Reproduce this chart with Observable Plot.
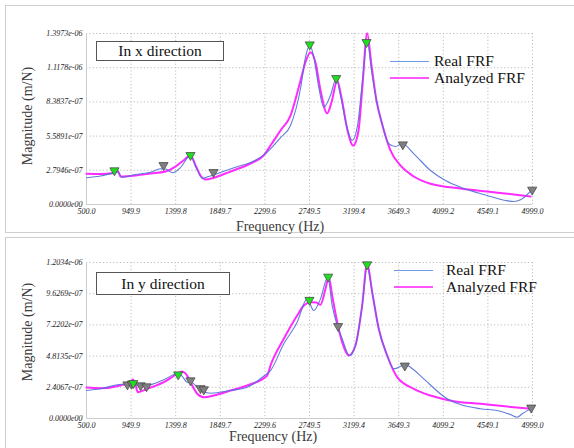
<!DOCTYPE html>
<html>
<head>
<meta charset="utf-8">
<script src="https://cdn.jsdelivr.net/npm/d3@7"></script>
<script src="https://cdn.jsdelivr.net/npm/@observablehq/plot@0.6"></script>
<style>
  html, body { margin: 0; padding: 0; background: #fff; }
  #page { position: relative; width: 574px; height: 448px; overflow: hidden; font-family: "Liberation Serif", "Times New Roman", Times, Tinos, "Noto Serif", "DejaVu Serif", serif; }
  .frame { position: absolute; border: 1px solid #cfcfcf; box-sizing: border-box; }
  .svgwrap { position: absolute; left: 0; }
  .lab { position: absolute; font-size: 14px; color: #3a3a3a; white-space: nowrap; transform: translate(-50%, -50%); }
  .ylab { transform: translate(-50%, -50%) rotate(-90deg); }
  .box { position: absolute; border: 1px solid #555; box-sizing: border-box; display: flex; align-items: center; justify-content: center; font-size: 15.5px; color: #111; background: #fff; }
  .leg { position: absolute; height: 0; }
  .legtext { position: absolute; font-size: 15.5px; color: #111; white-space: nowrap; transform: translateY(-52%); }
</style>
</head>
<body>
<div id="page"></div>
<script>
// ---------- shared axis ticks ----------
const xTickLabels = ["500.0","949.9","1399.8","1849.7","2299.6","2749.5","3199.4","3649.3","4099.2","4549.1","4999.0"];
const topYTickLabels = ["0.0000e00","2.7946e-07","5.5891e-07","8.3837e-07","1.1178e-06","1.3973e-06"];
const botYTickLabels = ["0.0000e00","2.4067e-07","4.8135e-07","7.2202e-07","9.6269e-07","1.2034e-06"];
const seriesNames = ["Real FRF", "Analyzed FRF"];
const panelTitles = ["In x direction", "In y direction"];

// ---------- x direction: Real FRF ----------
const xRealFreq = [500,641,772,823,853,994,1146,1246,1297,1367,1448,1549,1610,1670,1731,1781,1852,2003,2154,2296,2356,2457,2558,2659,2709,2753,2790,2840,2894,2961,3019,3062,3123,3180,3234,3284,3331,3375,3425,3486,3549,3617,3685,3802,3970,4121,4273,4542,4727,4810,4878,4999];
const xRealMag = [2.18e-7,2.33e-7,2.56e-7,2.66e-7,2.23e-7,2.45e-7,2.64e-7,2.92e-7,2.90e-7,2.59e-7,3.02e-7,4.00e-7,2.94e-7,2.12e-7,2.29e-7,2.41e-7,2.61e-7,3.05e-7,3.43e-7,4.09e-7,4.55e-7,5.47e-7,6.46e-7,9.48e-7,12.04e-7,12.99e-7,12.17e-7,9.72e-7,7.95e-7,8.91e-7,10.27e-7,8.91e-7,6.46e-7,5.23e-7,6.46e-7,10.13e-7,13.40e-7,10.95e-7,8.50e-7,6.46e-7,4.96e-7,4.74e-7,4.96e-7,4.14e-7,2.78e-7,1.96e-7,1.41e-7,0.74e-7,0.33e-7,0.25e-7,0.38e-7,1.25e-7];

// ---------- x direction: Analyzed FRF ----------
const xAnaFreq = [500,641,772,813,843,994,1146,1297,1398,1478,1549,1600,1650,1700,1781,1902,2003,2154,2296,2356,2457,2558,2659,2709,2760,2810,2861,2928,2971,3029,3072,3133,3190,3244,3284,3331,3375,3425,3486,3567,3667,3802,3970,4273,4542,4810,4979];
const xAnaMag = [2.51e-7,2.49e-7,2.57e-7,2.78e-7,2.29e-7,2.37e-7,2.53e-7,2.70e-7,3.10e-7,3.60e-7,4.00e-7,3.19e-7,2.37e-7,2.04e-7,2.17e-7,2.53e-7,2.84e-7,3.35e-7,4.09e-7,4.82e-7,6.05e-7,7.27e-7,10.13e-7,11.63e-7,12.44e-7,11.60e-7,9.32e-7,7.46e-7,8.33e-7,10.13e-7,8.74e-7,6.05e-7,4.82e-7,6.05e-7,9.72e-7,14.0e-7,11.36e-7,8.50e-7,6.46e-7,4.41e-7,3.19e-7,2.29e-7,1.69e-7,1.31e-7,1.06e-7,0.82e-7,0.65e-7];

// ---------- x direction: peak markers ----------
const xMarkFreq = [782,1277,1549,1781,2752,3019,3325,3691,4996];
const xMarkMag = [2.78e-7,3.21e-7,4.03e-7,2.64e-7,13.07e-7,10.32e-7,13.26e-7,4.90e-7,1.20e-7];
const xMarkKind = ["green","gray","green","gray","green","green","green","gray","gray"];

// ---------- y direction: Real FRF ----------
const yRealFreq = [500,641,810,893,967,1028,1105,1280,1415,1458,1516,1559,1650,1751,1953,2121,2296,2356,2490,2625,2726,2793,2860,2934,2978,3029,3079,3153,3213,3281,3331,3382,3448,3533,3600,3718,3768,3902,4138,4474,4643,4777,4845,4895,4999];
const yRealMag = [2.16e-7,2.29e-7,2.60e-7,2.66e-7,2.66e-7,2.55e-7,2.55e-7,2.99e-7,3.45e-7,3.32e-7,2.80e-7,2.78e-7,2.16e-7,1.95e-7,2.16e-7,2.41e-7,3.32e-7,3.70e-7,5.76e-7,7.43e-7,9.23e-7,8.33e-7,9.23e-7,10.90e-7,8.72e-7,7.17e-7,6.15e-7,4.86e-7,5.63e-7,8.72e-7,11.67e-7,9.74e-7,6.92e-7,4.86e-7,3.83e-7,4.17e-7,3.96e-7,3.06e-7,1.52e-7,0.75e-7,0.62e-7,0.31e-7,0.10e-7,0.36e-7,0.82e-7];

// ---------- y direction: Analyzed FRF ----------
const yAnaFreq = [500,641,843,944,967,994,1017,1112,1280,1415,1465,1509,1549,1617,1683,1784,1953,2121,2323,2356,2490,2625,2692,2760,2820,2860,2911,2944,2978,3029,3079,3146,3213,3281,3331,3382,3448,3533,3634,3802,3970,4205,4474,4810,4979];
const yAnaMag = [2.39e-7,2.34e-7,2.55e-7,2.80e-7,3.01e-7,2.62e-7,2.03e-7,2.29e-7,2.80e-7,3.45e-7,3.63e-7,3.39e-7,2.80e-7,1.91e-7,1.64e-7,1.77e-7,2.16e-7,2.55e-7,3.32e-7,4.09e-7,6.15e-7,7.95e-7,8.72e-7,8.97e-7,8.95e-7,8.77e-7,10.01e-7,10.90e-7,9.49e-7,7.43e-7,5.89e-7,4.86e-7,5.63e-7,8.72e-7,11.96e-7,9.74e-7,6.92e-7,4.86e-7,3.19e-7,2.29e-7,1.77e-7,1.33e-7,1.13e-7,0.87e-7,0.75e-7];

// ---------- y direction: peak markers ----------
const yMarkFreq = [913,955,972,1046,1105,1425,1549,1650,1683,2749,2938,3038,3331,3711,4986];
const yMarkMag = [2.62e-7,2.67e-7,2.72e-7,2.55e-7,2.47e-7,3.39e-7,2.93e-7,2.33e-7,2.24e-7,9.14e-7,10.93e-7,7.12e-7,11.88e-7,4.07e-7,0.83e-7];
const yMarkKind = ["gray","gray","green","gray","gray","green","gray","gray","gray","green","green","gray","green","gray","gray"];

// ---------- build ----------
const xTicks = xTickLabels.map(Number);
const zip = (fs, ms) => fs.map((f, i) => ({f, m: ms[i]}));
const zipK = (fs, ms, ks) => fs.map((f, i) => ({f, m: ms[i], k: ks[i]}));
const page = document.getElementById("page");
const serif = "'Liberation Serif', 'Times New Roman', Times, Tinos, 'Noto Serif', 'DejaVu Serif', serif";

function panel(cfg) {
  const yTicks = cfg.yLabels.map(Number);
  const chart = Plot.plot({
    width: 574,
    height: cfg.height,
    marginLeft: 86,
    marginRight: 42,
    marginTop: cfg.mt,
    marginBottom: cfg.mb,
    style: {fontFamily: serif, background: "transparent", color: "#222"},
    x: {domain: [500, 4999]},
    y: {domain: [0, yTicks[yTicks.length - 1]]},
    marks: [
      Plot.gridX(xTicks, {stroke: "#bdbdbd", strokeOpacity: 1, strokeDasharray: "1.2,2.2"}),
      Plot.gridY(yTicks.slice(1), {stroke: "#bdbdbd", strokeOpacity: 1, strokeDasharray: "1.2,2.2"}),
      Plot.ruleX([500], {stroke: "#cccccc"}),
      Plot.ruleY([0], {stroke: "#cccccc"}),
      Plot.axisX(xTicks, {tickSize: 0, tickPadding: 4, label: null, fontSize: 8, fontStyle: "italic", fontFamily: serif,
        tickFormat: d => xTickLabels[xTicks.indexOf(d)]}),
      Plot.axisY(yTicks, {tickSize: 0, tickPadding: 4, label: null, fontSize: 8, fontStyle: "italic", fontFamily: serif,
        tickFormat: d => cfg.yLabels[yTicks.indexOf(d)]}),
      Plot.line(cfg.ana, {x: "f", y: "m", stroke: "#ff2bff", strokeWidth: 2, curve: "monotone-x"}),
      Plot.line(cfg.real, {x: "f", y: "m", stroke: "#4f6fd9", strokeWidth: 1.1, strokeOpacity: 0.9, curve: "monotone-x"}),
      Plot.dot(cfg.marks, {x: "f", y: "m", symbol: "triangle", rotate: 180, r: 3.4,
        fill: d => d.k === "green" ? "#1fe01f" : "#808080", stroke: "#4a4a4a", strokeWidth: 0.8})
    ]
  });
  const wrap = document.createElement("div");
  wrap.className = "svgwrap";
  wrap.style.top = cfg.top + "px";
  wrap.appendChild(chart);
  page.appendChild(wrap);
}

function add(html) { page.insertAdjacentHTML("beforeend", html); }

add(`<div class="frame" style="left:5px;top:5px;width:575px;height:228px"></div>`);
add(`<div class="frame" style="left:5px;top:237px;width:575px;height:220px"></div>`);

panel({top: 0, height: 232, mt: 33, mb: 28, yLabels: topYTickLabels,
  real: zip(xRealFreq, xRealMag), ana: zip(xAnaFreq, xAnaMag), marks: zipK(xMarkFreq, xMarkMag, xMarkKind)});
panel({top: 232, height: 216, mt: 30, mb: 30, yLabels: botYTickLabels,
  real: zip(yRealFreq, yRealMag), ana: zip(yAnaFreq, yAnaMag), marks: zipK(yMarkFreq, yMarkMag, yMarkKind)});

// axis titles
add(`<div class="lab ylab" style="left:28px;top:116px">Magnitude (m/N)</div>`);
add(`<div class="lab" style="left:280px;top:227px">Frequency (Hz)</div>`);
add(`<div class="lab ylab" style="left:28px;top:332px">Magnitude (m/N)</div>`);
add(`<div class="lab" style="left:273px;top:437px">Frequency (Hz)</div>`);

// panel title boxes
add(`<div class="box" style="left:96px;top:41px;width:128px;height:20px">${panelTitles[0]}</div>`);
add(`<div class="box" style="left:96px;top:272px;width:134px;height:23px">${panelTitles[1]}</div>`);

// legends
function legend(x1, x2, yReal, yAna, tx) {
  add(`<div class="leg" style="left:${x1}px;top:${yReal}px;width:${x2 - x1}px;border-top:1.3px solid #6f9ae6"></div>`);
  add(`<div class="leg" style="left:${x1}px;top:${yAna - 1}px;width:${x2 - x1}px;border-top:2px solid #ff55ff"></div>`);
  add(`<div class="legtext" style="left:${tx}px;top:${yReal}px">${seriesNames[0]}</div>`);
  add(`<div class="legtext" style="left:${tx}px;top:${yAna}px">${seriesNames[1]}</div>`);
}
legend(390, 429, 61, 78, 434);
legend(394, 433, 270, 287, 446);
</script>
</body>
</html>
